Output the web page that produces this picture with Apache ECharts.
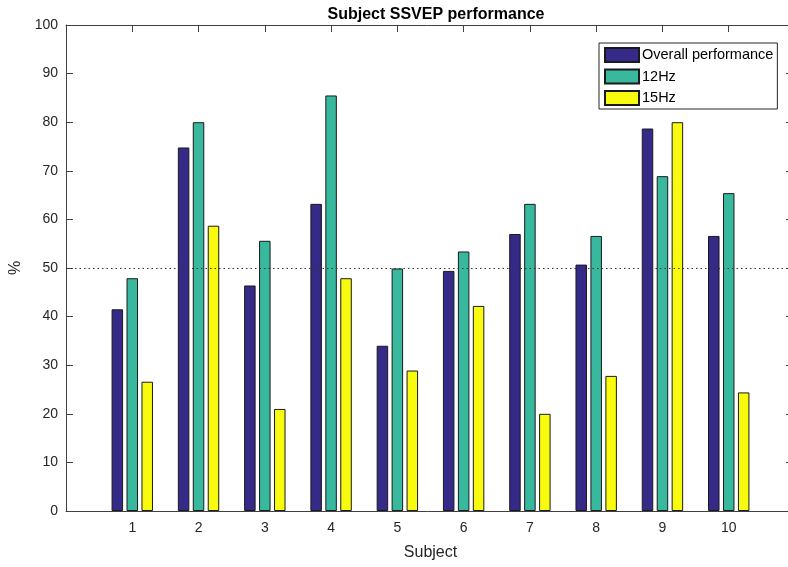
<!DOCTYPE html>
<html>
<head>
<meta charset="utf-8">
<script src="https://cdn.jsdelivr.net/npm/echarts@6/dist/echarts.min.js"></script>
<style>html,body{margin:0;padding:0;background:#fff}#c{width:788px;height:567px}</style>
</head>
<body>
<div id="c"></div>
<script>
var subjects = [1, 2, 3, 4, 5, 6, 7, 8, 9, 10];
var overall = [41.5, 74.8, 46.4, 63.2, 34.0, 49.4, 57.0, 50.7, 78.7, 56.6];
var hz12 = [47.9, 80.0, 55.6, 85.5, 49.9, 53.4, 63.2, 56.6, 68.9, 65.4];
var hz15 = [26.6, 58.7, 21.0, 47.9, 28.9, 42.2, 20.0, 27.8, 80.0, 24.4];
var yTicks = [0, 10, 20, 30, 40, 50, 60, 70, 80, 90, 100];
var seriesNames = ['Overall performance', '12Hz', '15Hz'];
var colors = ['#352a87', '#38b99e', '#f9fb0e'];

var FONT = '"Liberation Sans", Arial, Helvetica, sans-serif';
var AX = '#404040';
function pairs(vals){ return subjects.map(function(s,i){ return [s, vals[i]]; }); }

var chart = echarts.init(document.getElementById('c'));
var series = [overall, hz12, hz15].map(function(vals, k){
  var s = {
    name: seriesNames[k], type: 'bar', xAxisIndex: 0, yAxisIndex: 0,
    data: pairs(vals), barWidth: 11.5, barGap: '30%',
    itemStyle: { color: colors[k], borderColor: '#1a1a1a', borderWidth: 1 },
    emphasis: { disabled: true }, animation: false
  };
  if (k === 0) {
    s.markLine = {
      silent: true, symbol: ['none','none'], animation: false,
      label: { show: false },
      lineStyle: { color: '#333', type: [1.5, 3], width: 1 },
      data: [{ yAxis: 50 }]
    };
  }
  return s;
});

chart.setOption({
  backgroundColor: '#fff',
  animation: false,
  title: {
    text: 'Subject SSVEP performance', left: 431, top: 2, textAlign: 'center',
    textStyle: { fontFamily: FONT, fontSize: 16, fontWeight: 'bold', color: '#000' }
  },
  legend: {
    orient: 'vertical', left: 599, top: 43, icon: 'rect',
    padding: [4, 4, 3, 5], itemGap: 5.5, itemWidth: 34, itemHeight: 14,
    borderColor: '#262626', borderWidth: 1, backgroundColor: '#fff',
    textStyle: { fontFamily: FONT, fontSize: 14.5, color: '#000', padding: [0,0,0,-2] },
    data: seriesNames
  },
  grid: { left: 66, top: 25, width: 729, height: 486, containLabel: false, outerBoundsMode: 'none' },
  xAxis: [{
    type: 'value', min: 0, max: 11, interval: 1,
    name: 'Subject', nameLocation: 'middle', nameGap: 34,
    nameTextStyle: { fontFamily: FONT, fontSize: 16, color: '#262626' },
    axisLine: { show: true, lineStyle: { color: AX } },
    axisTick: { show: true, inside: true, length: 7, lineStyle: { color: AX } },
    axisLabel: { margin: 10, fontFamily: FONT, fontSize: 14, color: '#262626',
      formatter: function(v){ return subjects.indexOf(v) >= 0 ? String(v) : ''; } },
    splitLine: { show: false }
  }, {
    type: 'value', position: 'top', min: 0, max: 11, interval: 1,
    axisLine: { show: true, onZero: false, lineStyle: { color: AX } },
    axisTick: { show: true, inside: true, length: 7, lineStyle: { color: AX } },
    axisLabel: { show: false }, splitLine: { show: false }
  }],
  yAxis: [{
    type: 'value', min: 0, max: 100, interval: 10,
    name: '%', nameLocation: 'middle', nameGap: 37,
    nameTextStyle: { fontFamily: FONT, fontSize: 16, color: '#262626' },
    axisLine: { show: true, lineStyle: { color: AX } },
    axisTick: { show: true, inside: true, length: 7, lineStyle: { color: AX } },
    axisLabel: { margin: 8, fontFamily: FONT, fontSize: 14, color: '#262626',
      formatter: function(v){ return yTicks.indexOf(v) >= 0 ? String(v) : ''; } },
    splitLine: { show: false }
  }, {
    type: 'value', position: 'right', min: 0, max: 100, interval: 10,
    axisLine: { show: true, onZero: false, lineStyle: { color: AX } },
    axisTick: { show: true, inside: true, length: 9, lineStyle: { color: AX } },
    axisLabel: { show: false }, splitLine: { show: false }
  }],
  series: series
});
</script>
</body>
</html>
